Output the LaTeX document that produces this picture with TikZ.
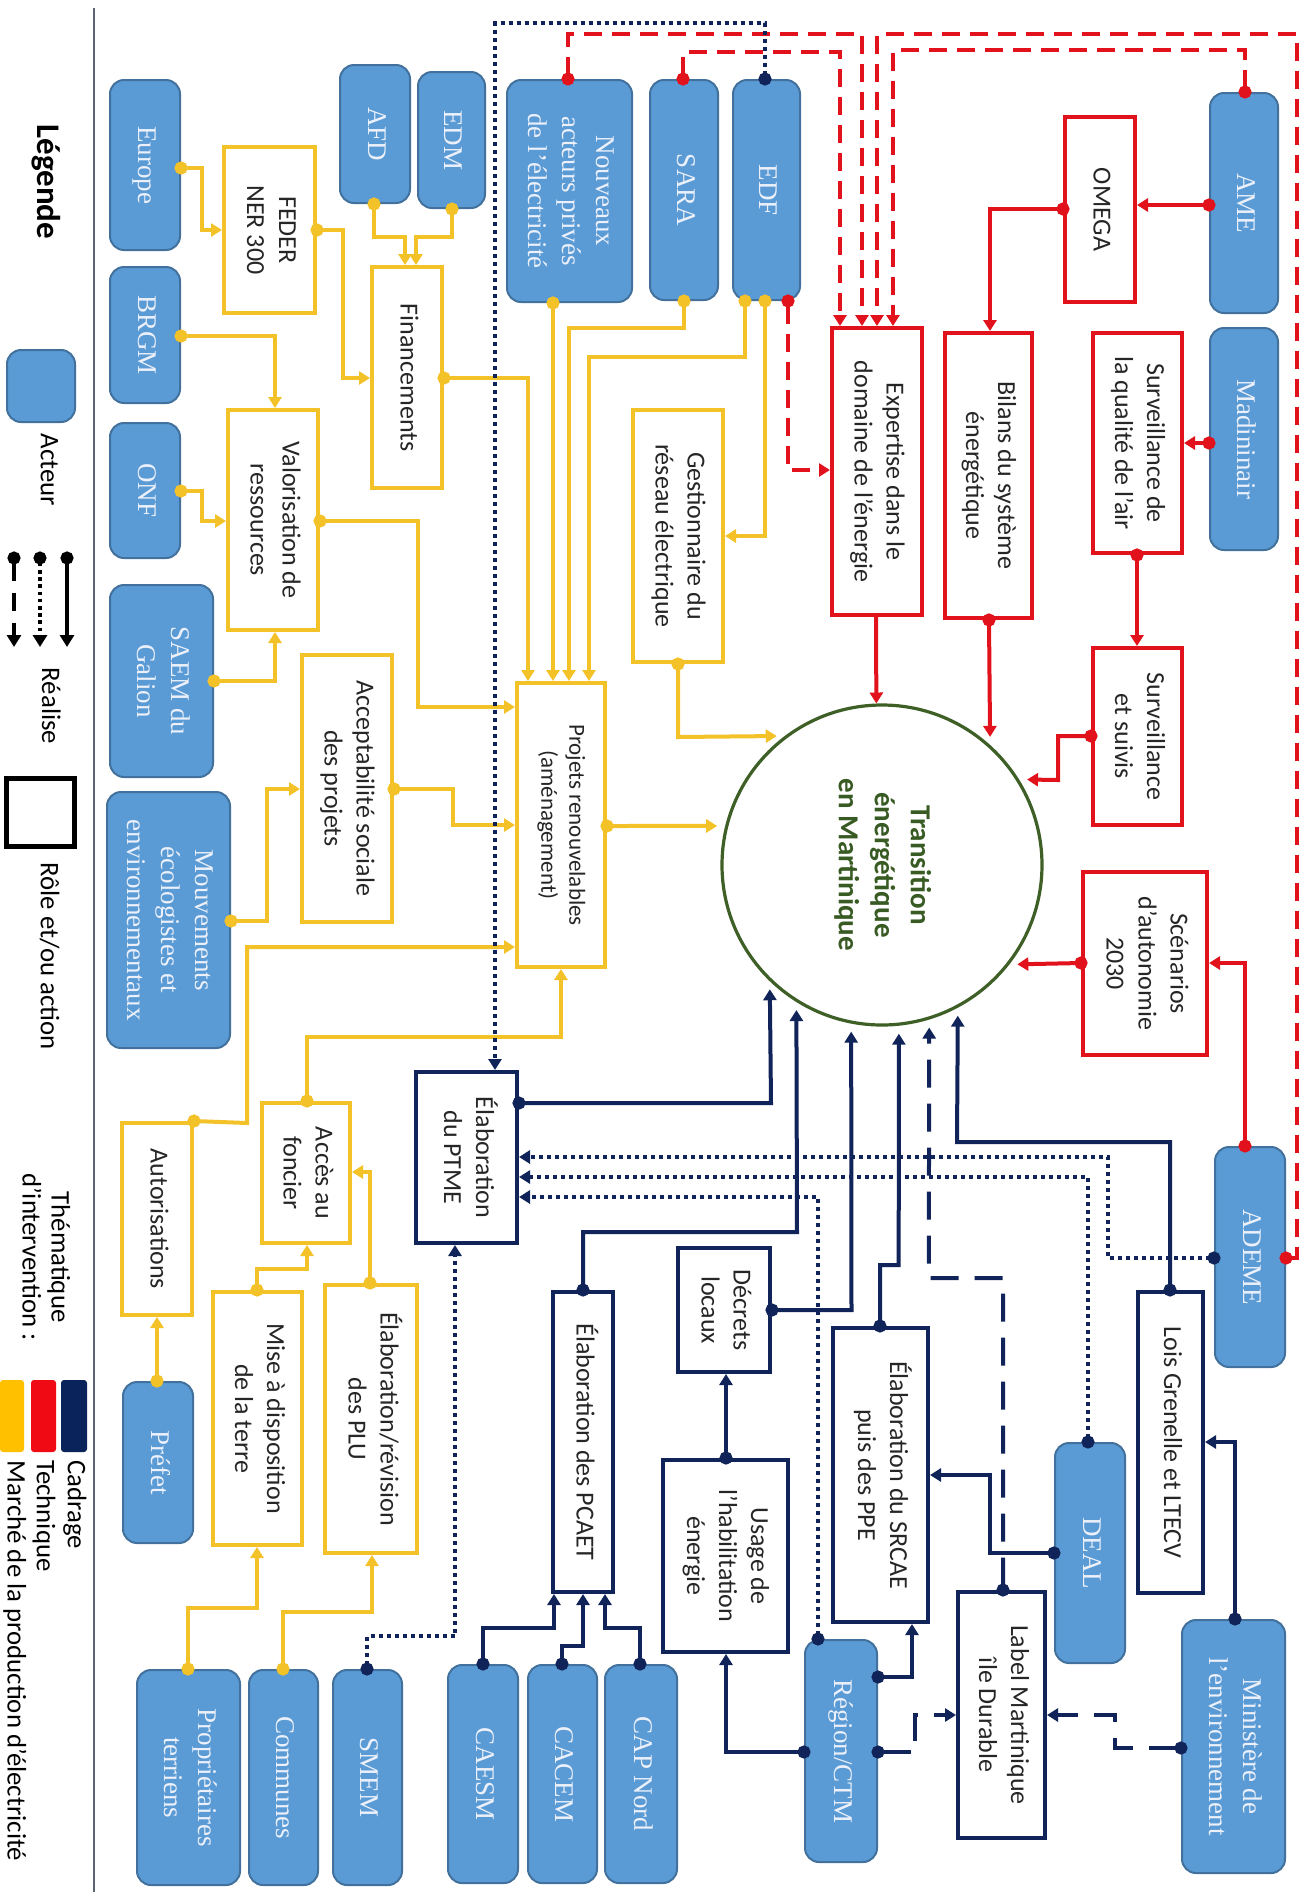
\documentclass[tikz,border=0pt]{standalone}
\usepackage{fontspec}
\setmainfont{Carlito}
\newfontfamily\actfont{Liberation Serif}
\usepackage{graphicx}
\usetikzlibrary{arrows.meta,fit}
\definecolor{ycol}{RGB}{243,193,40}
\definecolor{rcol}{RGB}{226,18,28}
\definecolor{ncol}{RGB}{17,36,89}
\definecolor{gcol}{RGB}{62,95,38}
\definecolor{gtxt}{RGB}{56,90,35}
\definecolor{actf}{RGB}{91,155,213}
\definecolor{actb}{RGB}{65,113,156}
\definecolor{acttxt}{RGB}{235,240,250}
\definecolor{swn}{RGB}{10,35,90}
\definecolor{swr}{RGB}{240,10,20}
\definecolor{swy}{RGB}{255,192,0}
\definecolor{legline}{RGB}{90,100,115}
\newcommand{\rtx}[1]{\rotatebox{-90}{\begin{tabular}{@{}c@{}}#1\end{tabular}}}
\begin{document}
\begin{tikzpicture}[x=0.5pt,y=-0.5pt,
  actor/.style={draw=actb, fill=actf, rounded corners=7pt, line width=1pt, inner sep=0pt, text=acttxt, font=\actfont\fontsize{13.5}{17}\selectfont},
  rolebox/.style={line width=2pt, fill=white, inner sep=0pt, text=black!85, font=\fontsize{13}{16}\selectfont},
  ybox/.style={rolebox, draw=ycol},
  rbox/.style={rolebox, draw=rcol},
  nbox/.style={rolebox, draw=ncol},
  base/.style={line width=2pt, {Circle[length=6.5pt]}-{Triangle[length=5.5pt,width=6.5pt]}, shorten <=-3.25pt},
  yc/.style={base, draw=ycol},
  rc/.style={base, draw=rcol},
  nc/.style={base, draw=ncol},
  rdash/.style={rc, dash pattern=on 9pt off 5pt},
  ndash/.style={nc, dash pattern=on 14pt off 8pt},
  ndot/.style={nc, dash pattern=on 2pt off 2pt},
  nodot/.style={{}-{Triangle[length=5.5pt,width=6.5pt]}, shorten <=0pt},
  tocirc/.style={shorten >=4pt},
  legtxt/.style={font=\fontsize{13.4}{15}\selectfont, inner sep=0pt},
  legarr/.style={line width=1.8pt, draw=black, {Circle[length=6.5pt]}-{Triangle[length=6pt,width=7pt]}, shorten <=-3.25pt}
]
\fill[white] (0,0) rectangle (1315,1892);
\useasboundingbox (0,0) rectangle (1315,1892);

% ---------------- Legend ----------------
\draw[line width=1.3pt, legline] (94,8) -- (94,1892);
\node[font=\bfseries\fontsize{16.5}{20}\selectfont, inner sep=0pt] (legtitle) at (45,182) {\rtx{Légende}};
\node[actor, fit={(7,350)(75,422)}] (legact) {};
\node[legtxt] (legacttxt) at (47,470) {\rtx{Acteur}};
\coordinate (la1) at (67,558); \coordinate (lb1) at (67,647);
\coordinate (la2) at (40,558); \coordinate (lb2) at (40,647);
\coordinate (la3) at (14,558); \coordinate (lb3) at (14,647);
\draw[legarr] (la1) -- (lb1);
\draw[legarr, dash pattern=on 1.8pt off 1.8pt] (la2) -- (lb2);
\draw[legarr, dash pattern=on 9pt off 6pt] (la3) -- (lb3);
\node[legtxt] (legreal) at (48,706) {\rtx{Réalise}};
\node[draw=black, line width=2.5pt, inner sep=0pt, fit={(6,778)(74,846)}] (legrole) {};
\node[legtxt] (legroletxt) at (47,956) {\rtx{Rôle et/ou action}};
\node[legtxt, font=\fontsize{13.4}{14.5}\selectfont] (legthem) at (43,1257) {\rtx{Thématique\\d’intervention :}};
\fill[swn, rounded corners=1.5pt] (61,1380) rectangle (87,1452);
\fill[swr, rounded corners=1.5pt] (31,1380) rectangle (56,1452);
\fill[swy, rounded corners=1.5pt] (0,1380) rectangle (24,1452);
\node[legtxt, anchor=north] (legc) at (75,1460) {\rotatebox{-90}{Cadrage}};
\node[legtxt, anchor=north] (legt) at (44,1460) {\rotatebox{-90}{Technique}};
\node[legtxt, anchor=north] (legm) at (15,1460) {\rotatebox{-90}{Marché de la production d’électricité}};

% ---------------- Actors ----------------
\node[actor, fit={(110,80)(180,250)}] (europe) {\rtx{Europe}};
\node[actor, fit={(110,267)(180,403)}] (brgm) {\rtx{BRGM}};
\node[actor, fit={(110,423)(180,558)}] (onf) {\rtx{ONF}};
\node[actor, fit={(110,585)(213,777)}] (saem) {\rtx{SAEM du\\Galion}};
\node[actor, fit={(107,792)(230,1048)}] (mouv) {\rtx{Mouvements\\écologistes et\\environnementaux}};
\node[actor, fit={(340,65)(410,203)}] (afd) {\rtx{AFD}};
\node[actor, fit={(418,72)(485,208)}] (edm) {\rtx{EDM}};
\node[actor, fit={(507,80)(632,302)}] (nouv) {\rtx{Nouveaux\\acteurs privés\\de l’électricité}};
\node[actor, fit={(650,80)(718,300)}] (sara) {\rtx{SARA}};
\node[actor, fit={(733,80)(800,300)}] (edf) {\rtx{EDF}};
\node[actor, fit={(1210,93)(1278,313)}] (ame) {\rtx{AME}};
\node[actor, fit={(1210,328)(1278,550)}] (madi) {\rtx{Madininair}};
\node[actor, fit={(1215,1147)(1285,1367)}] (ademe) {\rtx{ADEME}};
\node[actor, fit={(1182,1620)(1285,1873)}] (mini) {\rtx{Ministère de\\l’environnement}};
\node[actor, fit={(1055,1443)(1125,1663)}] (deal) {\rtx{DEAL}};
\node[actor, fit={(805,1640)(877,1862)}] (region) {\rtx{Région/CTM}};
\node[actor, fit={(605,1665)(677,1883)}] (capnord) {\rtx{CAP Nord}};
\node[actor, fit={(528,1665)(597,1883)}] (cacem) {\rtx{CACEM}};
\node[actor, fit={(448,1665)(518,1883)}] (caesm) {\rtx{CAESM}};
\node[actor, fit={(333,1670)(402,1885)}] (smem) {\rtx{SMEM}};
\node[actor, fit={(249,1670)(318,1885)}] (communes) {\rtx{Communes}};
\node[actor, fit={(137,1670)(240,1885)}] (proprio) {\rtx{Propriétaires\\terriens}};
\node[actor, fit={(123,1382)(193,1543)}] (prefet) {\rtx{Préfet}};

% ---------------- Roles: market (yellow) ----------------
\node[ybox, fit={(224,147)(315,313)}] (feder) {\rtx{FEDER\\NER 300}};
\node[ybox, fit={(372,267)(442,488)}] (finan) {\rtx{Financements}};
\node[ybox, fit={(228,410)(318,630)}] (valo) {\rtx{Valorisation de\\ressources}};
\node[ybox, fit={(302,655)(392,922)}] (accept) {\rtx{Acceptabilité sociale\\des projets}};
\node[ybox, fit={(633,410)(723,662)}] (gest) {\rtx{Gestionnaire du\\réseau électrique}};
\node[ybox, fit={(517,683)(605,967)}, font=\fontsize{11.5}{14}\selectfont] (projets) {\rtx{Projets renouvelables\\(aménagement)}};
\node[ybox, fit={(262,1103)(350,1243)}] (acces) {\rtx{Accès au\\foncier}};
\node[ybox, fit={(122,1123)(192,1315)}] (autor) {\rtx{Autorisations}};
\node[ybox, fit={(213,1292)(302,1545)}] (mise) {\rtx{Mise à disposition\\de la terre}};
\node[ybox, fit={(325,1285)(417,1553)}] (plu) {\rtx{Élaboration/révision\\des PLU}};

% ---------------- Roles: technical (red) ----------------
\node[rbox, fit={(1065,117)(1135,302)}] (omega) {\rtx{OMEGA}};
\node[rbox, fit={(832,328)(922,615)}] (expert) {\rtx{Expertise dans le\\domaine de l’énergie}};
\node[rbox, fit={(945,333)(1032,618)}] (bilans) {\rtx{Bilans du système\\énergétique}};
\node[rbox, fit={(1093,333)(1182,553)}] (sqa) {\rtx{Surveillance de\\la qualité de l’air}};
\node[rbox, fit={(1093,648)(1182,825)}] (ss) {\rtx{Surveillance\\et suivis}};
\node[rbox, fit={(1083,872)(1207,1055)}] (scen) {\rtx{Scénarios\\d’autonomie\\2030}};

% ---------------- Roles: framing (navy) ----------------
\node[nbox, fit={(416,1072)(517,1243)}] (ptme) {\rtx{Élaboration\\du PTME}};
\node[nbox, fit={(553,1292)(613,1592)}] (pcaet) {\rtx{Élaboration des PCAET}};
\node[nbox, fit={(678,1248)(770,1372)}] (decrets) {\rtx{Décrets\\locaux}};
\node[nbox, fit={(663,1460)(788,1652)}] (usage) {\rtx{Usage de\\l’habilitation\\énergie}};
\node[nbox, fit={(833,1328)(928,1622)}] (srcae) {\rtx{Élaboration du SRCAE\\puis des PPE}};
\node[nbox, fit={(1138,1292)(1203,1593)}] (lois) {\rtx{Lois Grenelle et LTECV}};
\node[nbox, fit={(958,1592)(1045,1838)}] (label) {\rtx{Label Martinique\\île Durable}};

% ---------------- Central circle ----------------
\node[circle, draw=gcol, line width=1.6pt, minimum size=160pt, inner sep=0pt, text=gtxt, font=\bfseries\fontsize{14.5}{18}\selectfont] (circ) at (882,865) {\rtx{Transition\\énergétique\\en Martinique}};

% ---------------- Yellow connectors ----------------
\draw[yc] (europe.east |- 0,168) -- (202,168) -- (202,230) -- (feder.west |- 0,230);
\draw[yc] (feder.east |- 0,230) -- (343,230) -- (343,378) -- (finan.west |- 0,378);
\draw[yc] (afd.south -| 374,0) -- (374,237) -- (405,237) -- (finan.north -| 405,0);
\draw[yc] (edm.south -| 452,0) -- (452,237) -- (416,237) -- (finan.north -| 416,0);
\draw[yc] (brgm.east |- 0,336) -- (275,336) -- (valo.north -| 275,0);
\draw[yc] (onf.east |- 0,491) -- (202,491) -- (202,521) -- (valo.west |- 0,521);
\draw[yc] (saem.east |- 0,681) -- (275,681) -- (valo.south -| 275,0);
\draw[yc] (valo.east |- 0,521) -- (418,521) -- (418,707) -- (projets.west |- 0,707);
\draw[yc] (finan.east |- 0,378) -- (528,378) -- (projets.north -| 528,0);
\draw[yc] (nouv.south -| 553,0) -- (projets.north -| 553,0);
\draw[yc] (sara.south -| 684,0) -- (684,328) -- (569,328) -- (projets.north -| 569,0);
\draw[yc] (edf.south -| 745,0) -- (745,357) -- (589,357) -- (projets.north -| 589,0);
\draw[yc] (edf.south -| 765,0) -- (765,536) -- (gest.east |- 0,536);
\draw[yc, tocirc] (gest.south -| 678,0) -- (678,737) -- (circ.127);
\draw[yc] (mouv.east |- 0,921) -- (267,921) -- (267,789) -- (accept.west |- 0,789);
\draw[yc] (accept.east |- 0,789) -- (453,789) -- (453,825) -- (projets.west |- 0,825);
\draw[yc, tocirc] (projets.east |- 0,826) -- (circ.166);
\draw[yc] (autor.north east) -- (247,1123) -- (247,947) -- (projets.west |- 0,947);
\draw[yc] (acces.north -| 307,0) -- (307,1037) -- (561,1037) -- (projets.south -| 561,0);
\draw[yc] (mise.north -| 257,0) -- (257,1269) -- (307,1269) -- (acces.south -| 307,0);
\draw[yc] (plu.north -| 370,0) -- (370,1172) -- (acces.east |- 0,1172);
\draw[yc] (prefet.north -| 157,0) -- (autor.south -| 157,0);
\draw[yc] (proprio.north -| 188,0) -- (188,1608) -- (257,1608) -- (mise.south -| 257,0);
\draw[yc] (communes.north -| 283,0) -- (283,1612) -- (372,1612) -- (plu.south -| 372,0);

% ---------------- Red connectors ----------------
\draw[rc] (ame.west |- 0,205) -- (omega.east |- 0,205);
\draw[rc] (omega.west |- 0,209) -- (990,209) -- (bilans.north -| 990,0);
\draw[rc] (madi.west |- 0,443) -- (sqa.east |- 0,443);
\draw[rc] (sqa.south -| 1137,0) -- (ss.north -| 1137,0);
\draw[rc, nodot] (expert.south -| 876,0) -- (circ.92);
\draw[rc, tocirc] (bilans.south -| 989,0) -- (circ.48);
\draw[rc, tocirc] (ss.west |- 0,736) -- (1058,736) -- (1058,780) -- (circ.32);
\draw[rc, tocirc] (scen.west |- 0,963) -- (circ.322);
\draw[rc] (ademe.north -| 1245,0) -- (1245,963) -- (scen.east |- 0,963);
% dashed red
\draw[rdash] (nouv.north -| 568,0) -- (568,34) -- (862,34) -- (expert.north -| 862,0);
\draw[rdash] (sara.north -| 683,0) -- (683,52) -- (840,52) -- (expert.north -| 840,0);
\draw[rdash] (ame.north -| 1245,0) -- (1245,50) -- (893,50) -- (expert.north -| 893,0);
\draw[rdash] (ademe.east |- 0,1258) -- (1297,1258) -- (1297,34) -- (877,34) -- (expert.north -| 877,0);
\draw[rdash] (edf.south -| 788,0) -- (788,470) -- (expert.west |- 0,470);

% ---------------- Navy connectors ----------------
\draw[ndot] (edf.north -| 765,0) -- (765,23) -- (495,23) -- (ptme.north -| 495,0);
\draw[nc, tocirc] (ptme.east |- 0,1103) -- (771,1103) -- (circ.226);
\draw[nc, tocirc] (pcaet.north -| 583,0) -- (583,1232) -- (797,1232) -- (circ.238);
\draw[nc, tocirc] (decrets.east |- 0,1310) -- (851.5,1310) -- (circ.259);
\draw[nc, tocirc] (srcae.north -| 880,0) -- (880,1265) -- (898.7,1265) -- (circ.276);
\draw[ndash, tocirc] (label.north -| 1003,0) -- (1003,1278) -- (928.8,1278) -- (circ.287);
\draw[nc, tocirc] (lois.north -| 1170,0) -- (1170,1142) -- (957,1142) -- (circ.298);
\draw[nc] (deal.west |- 0,1553) -- (990,1553) -- (990,1475) -- (srcae.east |- 0,1475);
\draw[ndash] (mini.west |- 0,1748) -- (1115,1748) -- (1115,1715) -- (label.east |- 0,1715);
\draw[ndash] (region.east |- 0,1752) -- (915,1752) -- (915,1715) -- (label.west |- 0,1715);
\draw[nc] (region.east |- 0,1677) -- (912,1677) -- (srcae.south -| 912,0);
\draw[nc] (region.west |- 0,1752) -- (726,1752) -- (usage.south -| 726,0);
\draw[nc] (usage.north -| 726,0) -- (decrets.south -| 726,0);
\draw[ndot] (region.north -| 818,0) -- (818,1197) -- (ptme.east |- 0,1197);
\draw[ndot] (deal.north -| 1088,0) -- (1088,1177) -- (ptme.east |- 0,1177);
\draw[ndot] (ademe.west |- 0,1258) -- (1108,1258) -- (1108,1157) -- (ptme.east |- 0,1157);
\draw[nc] (mini.north -| 1235,0) -- (1235,1442) -- (lois.east |- 0,1442);
\draw[ndot] (smem.north -| 367,0) -- (367,1636) -- (455,1636) -- (ptme.south -| 455,0);
\draw[nc] (caesm.north -| 483,0) -- (483,1628) -- (554,1628) -- (pcaet.south -| 554,0);
\draw[nc] (cacem.north -| 562,0) -- (562,1646) -- (583,1646) -- (pcaet.south -| 583,0);
\draw[nc] (capnord.north -| 640,0) -- (640,1628) -- (605,1628) -- (pcaet.south -| 605,0);
\end{tikzpicture}
\end{document}
